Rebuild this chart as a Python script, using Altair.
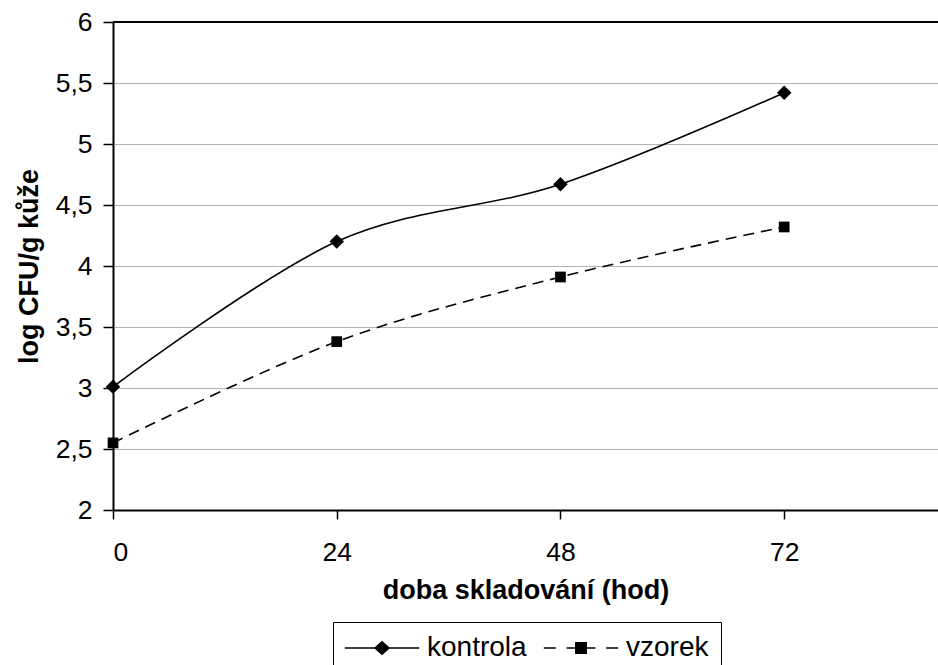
import altair as alt
import pandas as pd

# ---- data ----
hours = [0, 24, 48, 72]
kontrola = [3.01, 4.20, 4.67, 5.42]
vzorek = [2.55, 3.38, 3.91, 4.32]
series_names = ["kontrola", "vzorek"]
x_ticks = [0, 24, 48, 72]
y_ticks = [2, 2.5, 3, 3.5, 4, 4.5, 5, 5.5, 6]

df = pd.DataFrame({
    "hod": hours * 2,
    "val": kontrola + vzorek,
    "serie": ["kontrola"] * len(hours) + ["vzorek"] * len(hours),
})

FONT = "Liberation Sans"
DASH = [11, 7]

x_enc = alt.X(
    "hod:Q",
    scale=alt.Scale(domain=[0, 88.5], nice=False, zero=False),
    axis=alt.Axis(values=x_ticks, title="doba skladování (hod)", grid=False,
                  tickSize=9, labelPadding=20, titlePadding=12, format="d"),
)
y_enc = alt.Y(
    "val:Q",
    scale=alt.Scale(domain=[2, 6], nice=False, zero=False),
    axis=alt.Axis(values=y_ticks, title="log CFU/g kůže", grid=True,
                  tickSize=10, labelPadding=11, titlePadding=12,
                  format=".1~f", labelExpr="replace(datum.label, '.', ',')"),
)

base = alt.Chart(df)

line_k = base.transform_filter(alt.datum.serie == "kontrola").mark_line(
    interpolate="cardinal", color="black", strokeWidth=1.6
).encode(x=x_enc, y=y_enc)

line_v = base.transform_filter(alt.datum.serie == "vzorek").mark_line(
    interpolate="cardinal", color="black", strokeWidth=1.6, strokeDash=DASH
).encode(x=x_enc, y=y_enc)

pt_k = base.transform_filter(alt.datum.serie == "kontrola").mark_point(
    shape="diamond", filled=True, size=210, color="black", opacity=1
).encode(x=x_enc, y=y_enc)

pt_v = base.transform_filter(alt.datum.serie == "vzorek").mark_point(
    shape="square", filled=True, size=115, color="black", opacity=1
).encode(x=x_enc, y=y_enc)

# legend-only layer (no marks drawn); symbols are filled paths: line (or dashes) + marker
path_k = ("M-6.2,-0.13H6.2V0.13H-6.2Z"
          "M0,-1.2L1.35,0L0,1.2L-1.35,0Z")
path_v = ("M-6.2,-0.13H-4.2V0.13H-6.2Z"
          "M-2.4,-0.13H2.4V0.13H-2.4Z"
          "M4.2,-0.13H6.2V0.13H4.2Z"
          "M-1,-1H1V1H-1Z")
leg = alt.Legend(
    title=None, orient="none", legendX=220, legendY=600, direction="horizontal",
    columns=2, padding=12, strokeColor="black", fillColor="white",
    labelFont=FONT, labelFontSize=28, labelColor="black", labelLimit=300,
    symbolOffset=23, labelOffset=31, columnPadding=16,
    symbolFillColor="black", symbolStrokeColor="black", symbolStrokeWidth=0,
    symbolSize=144, symbolOpacity=1,
)
legend_layer = base.transform_filter("false").mark_point(
    filled=True, color="black", opacity=1
).encode(
    x=x_enc, y=y_enc,
    shape=alt.Shape("serie:N", scale=alt.Scale(domain=series_names, range=[path_k, path_v]), legend=leg),
)

top_rule = alt.Chart(pd.DataFrame({"a": [0]})).mark_rule(color="black", strokeWidth=2).encode(
    y=alt.datum(6)
)

chart = alt.layer(top_rule, line_k, line_v, pt_k, pt_v, legend_layer).properties(
    width=825, height=488,
    padding={"left": 113, "top": 22, "right": 0, "bottom": 155},
    autosize=alt.AutoSizeParams(type="none"),
    background="white",
).configure_view(stroke=None).configure_axis(
    gridColor="#b3b3b3", gridWidth=1,
    domainColor="black", domainWidth=2,
    tickColor="black", tickWidth=1.5,
    labelFont=FONT, labelFontSize=26.5, labelColor="black",
    titleFont=FONT, titleFontSize=27, titleFontWeight="bold", titleColor="black",
)

chart.save("out.html", embed_options={"renderer": "svg", "actions": False})
